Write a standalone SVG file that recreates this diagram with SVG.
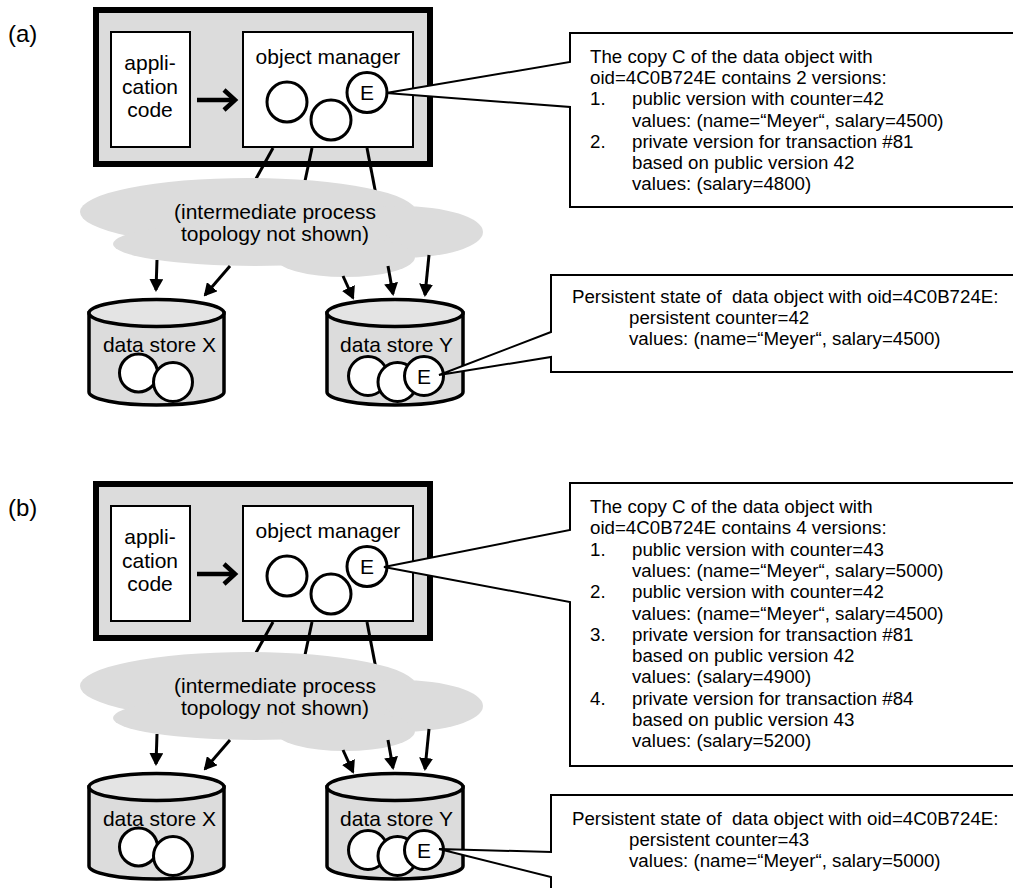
<svg xmlns="http://www.w3.org/2000/svg" width="1013" height="888" viewBox="0 0 1013 888">
  <defs>
    <style>
      text { font-family: "Liberation Sans", Arial, sans-serif; fill: #000; }
      .lbl { font-size: 21px; }
      .tag { font-size: 24px; }
      .mid { text-anchor: middle; }
      .note { font-size: 18.7px; }
      .host { fill: #dcdcdc; stroke: #000; stroke-width: 6; }
      .box { fill: #fff; stroke: #000; stroke-width: 2; }
      .obj { fill: #fff; stroke: #000; stroke-width: 3; }
      .cloud { fill: #dcdcdc; }
      .store { fill: #dcdcdc; stroke: #000; stroke-width: 3.5; }
      .store-top { fill: #e4e4e4; stroke: #000; stroke-width: 3.5; }
      .link { stroke: #000; stroke-width: 3; fill: none; }
      .flow { stroke: #000; stroke-width: 3; fill: none; marker-end: url(#head); }
      .call { stroke: #000; stroke-width: 4.5; fill: none; }
      .callout { fill: #fff; stroke: #000; stroke-width: 2; stroke-linejoin: miter; }
    </style>
    <marker id="head" viewBox="0 0 13 14" refX="11" refY="7" markerWidth="13" markerHeight="14" markerUnits="userSpaceOnUse" orient="auto">
      <path d="M0,0 L13,7 L0,14 Z" fill="#000"/>
    </marker>
  </defs>

  <!-- ===== scenario (a) ===== -->
  <g id="panel-a">
    <text class="tag" x="8" y="42">(a)</text>

    <g id="a-host">
      <rect class="host" x="96" y="10" width="334" height="154"/>
    </g>
    <g id="a-app">
      <rect class="box" x="111" y="32" width="79" height="115"/>
      <text class="lbl mid" x="150" y="70">appli-</text>
      <text class="lbl mid" x="150" y="93.5">cation</text>
      <text class="lbl mid" x="150" y="117">code</text>
    </g>
    <g id="a-om">
      <rect class="box" x="243" y="32" width="170" height="115"/>
      <text class="lbl mid" x="328" y="64">object manager</text>
      <circle class="obj" cx="287" cy="102" r="20"/>
      <circle class="obj" cx="331" cy="120" r="20"/>
      <circle class="obj" cx="367" cy="92.5" r="20"/>
      <text class="lbl mid" x="367" y="100">E</text>
    </g>

    <g id="a-connectors">
      <line class="call" x1="197" y1="100" x2="233" y2="100"/>
      <polyline class="call" points="224,90 235,100 224,110"/>
      <line class="link" x1="273" y1="148" x2="247" y2="195"/>
      <line class="link" x1="312" y1="148" x2="302" y2="195"/>
      <line class="link" x1="367" y1="148" x2="377" y2="200"/>
    </g>

    <g id="a-cloud">
      <ellipse class="cloud" cx="248" cy="212" rx="168" ry="34"/>
      <ellipse class="cloud" cx="400" cy="232" rx="83" ry="26"/>
      <ellipse class="cloud" cx="255" cy="244" rx="142" ry="22"/>
      <ellipse class="cloud" cx="345" cy="257" rx="70" ry="20"/>
      <text class="lbl mid" x="275" y="219">(intermediate process</text>
      <text class="lbl mid" x="275" y="241">topology not shown)</text>
    </g>

    <g id="a-flows">
      <line class="flow" x1="157" y1="260" x2="156" y2="290"/>
      <line class="flow" x1="230" y1="266" x2="205" y2="295"/>
      <line class="flow" x1="343" y1="276" x2="353" y2="298"/>
      <line class="flow" x1="388" y1="266" x2="393" y2="294"/>
      <line class="flow" x1="429" y1="255" x2="425" y2="295"/>
    </g>

    <g id="a-store-x">
      <path class="store" d="M89,313 L89,392 A67.5,13 0 0 0 224,392 L224,313 Z"/>
      <ellipse class="store-top" cx="156.5" cy="313" rx="67.5" ry="13.5"/>
      <text class="lbl mid" x="159.5" y="351.5">data store X</text>
      <circle class="obj" cx="138.5" cy="373" r="19"/>
      <circle class="obj" cx="173" cy="382" r="19.5"/>
    </g>
    <g id="a-store-y">
      <path class="store" d="M327,313 L327,392 A68,13 0 0 0 463,392 L463,313 Z"/>
      <ellipse class="store-top" cx="395" cy="313" rx="68" ry="13.5"/>
      <text class="lbl mid" x="396.5" y="351.5">data store Y</text>
      <circle class="obj" cx="368" cy="376" r="19.5"/>
      <circle class="obj" cx="397.5" cy="382" r="19.5"/>
      <circle class="obj" cx="424" cy="376" r="19.5"/>
      <text class="lbl mid" x="424" y="383.5">E</text>
    </g>

    <g id="a-copy-note">
      <path class="callout" d="M1020,33 L570,33 L570,62 L386,93 L570,107 L570,207 L1020,207"/>
      <text class="note" x="590" y="63">The copy C of the data object with</text>
      <text class="note" x="590" y="84.2">oid=4C0B724E contains 2 versions:</text>
      <text class="note" x="590" y="105.4">1.</text>
      <text class="note" x="632" y="105.4">public version with counter=42</text>
      <text class="note" x="632" y="126.6">values: (name=“Meyer“, salary=4500)</text>
      <text class="note" x="590" y="147.8">2.</text>
      <text class="note" x="632" y="147.8">private version for transaction #81</text>
      <text class="note" x="632" y="169">based on public version 42</text>
      <text class="note" x="632" y="190.2">values: (salary=4800)</text>
    </g>

    <g id="a-persist-note">
      <path class="callout" d="M1020,275 L551,275 L551,332 L439,375 L551,357 L551,372 L1020,372"/>
      <text class="note" x="572" y="303" xml:space="preserve">Persistent state of  data object with oid=4C0B724E:</text>
      <text class="note" x="629" y="324">persistent counter=42</text>
      <text class="note" x="629" y="345">values: (name=“Meyer“, salary=4500)</text>
    </g>
  </g>

  <!-- ===== scenario (b) ===== -->
  <g id="panel-b">
    <text class="tag" x="8" y="516">(b)</text>

    <g transform="translate(0,474)">
      <g id="b-host">
        <rect class="host" x="96" y="10" width="334" height="154"/>
      </g>
      <g id="b-app">
        <rect class="box" x="111" y="32" width="79" height="115"/>
        <text class="lbl mid" x="150" y="70">appli-</text>
        <text class="lbl mid" x="150" y="93.5">cation</text>
        <text class="lbl mid" x="150" y="117">code</text>
      </g>
      <g id="b-om">
        <rect class="box" x="243" y="32" width="170" height="115"/>
        <text class="lbl mid" x="328" y="64">object manager</text>
        <circle class="obj" cx="287" cy="102" r="20"/>
        <circle class="obj" cx="331" cy="120" r="20"/>
        <circle class="obj" cx="367" cy="92.5" r="20"/>
        <text class="lbl mid" x="367" y="100">E</text>
      </g>

      <g id="b-connectors">
        <line class="call" x1="197" y1="100" x2="233" y2="100"/>
        <polyline class="call" points="224,90 235,100 224,110"/>
        <line class="link" x1="273" y1="148" x2="247" y2="195"/>
        <line class="link" x1="312" y1="148" x2="302" y2="195"/>
        <line class="link" x1="367" y1="148" x2="377" y2="200"/>
      </g>

      <g id="b-cloud">
        <ellipse class="cloud" cx="248" cy="212" rx="168" ry="34"/>
        <ellipse class="cloud" cx="400" cy="232" rx="83" ry="26"/>
        <ellipse class="cloud" cx="255" cy="244" rx="142" ry="22"/>
        <ellipse class="cloud" cx="345" cy="257" rx="70" ry="20"/>
        <text class="lbl mid" x="275" y="219">(intermediate process</text>
        <text class="lbl mid" x="275" y="241">topology not shown)</text>
      </g>

      <g id="b-flows">
        <line class="flow" x1="157" y1="260" x2="156" y2="290"/>
        <line class="flow" x1="230" y1="266" x2="205" y2="295"/>
        <line class="flow" x1="343" y1="276" x2="353" y2="298"/>
        <line class="flow" x1="388" y1="266" x2="393" y2="294"/>
        <line class="flow" x1="429" y1="255" x2="425" y2="295"/>
      </g>

      <g id="b-store-x">
        <path class="store" d="M89,313 L89,392 A67.5,13 0 0 0 224,392 L224,313 Z"/>
        <ellipse class="store-top" cx="156.5" cy="313" rx="67.5" ry="13.5"/>
        <text class="lbl mid" x="159.5" y="351.5">data store X</text>
        <circle class="obj" cx="138.5" cy="373" r="19"/>
        <circle class="obj" cx="173" cy="382" r="19.5"/>
      </g>
      <g id="b-store-y">
        <path class="store" d="M327,313 L327,392 A68,13 0 0 0 463,392 L463,313 Z"/>
        <ellipse class="store-top" cx="395" cy="313" rx="68" ry="13.5"/>
        <text class="lbl mid" x="396.5" y="351.5">data store Y</text>
        <circle class="obj" cx="368" cy="376" r="19.5"/>
        <circle class="obj" cx="397.5" cy="382" r="19.5"/>
        <circle class="obj" cx="424" cy="376" r="19.5"/>
        <text class="lbl mid" x="424" y="383.5">E</text>
      </g>
    </g>

    <g id="b-copy-note">
      <path class="callout" d="M1020,483 L570,483 L570,530 L384,567 L570,602 L570,766 L1020,766"/>
      <text class="note" x="590" y="513">The copy C of the data object with</text>
      <text class="note" x="590" y="534.3">oid=4C0B724E contains 4 versions:</text>
      <text class="note" x="590" y="555.6">1.</text>
      <text class="note" x="632" y="555.6">public version with counter=43</text>
      <text class="note" x="632" y="576.9">values: (name=“Meyer“, salary=5000)</text>
      <text class="note" x="590" y="598.2">2.</text>
      <text class="note" x="632" y="598.2">public version with counter=42</text>
      <text class="note" x="632" y="619.5">values: (name=“Meyer“, salary=4500)</text>
      <text class="note" x="590" y="640.8">3.</text>
      <text class="note" x="632" y="640.8">private version for transaction #81</text>
      <text class="note" x="632" y="662.1">based on public version 42</text>
      <text class="note" x="632" y="683.4">values: (salary=4900)</text>
      <text class="note" x="590" y="704.7">4.</text>
      <text class="note" x="632" y="704.7">private version for transaction #84</text>
      <text class="note" x="632" y="726">based on public version 43</text>
      <text class="note" x="632" y="747.3">values: (salary=5200)</text>
    </g>

    <g id="b-persist-note">
      <path class="callout" d="M1020,795 L551,795 L551,852 L439,849 L551,877 L551,900"/>
      <text class="note" x="572" y="825" xml:space="preserve">Persistent state of  data object with oid=4C0B724E:</text>
      <text class="note" x="629" y="846">persistent counter=43</text>
      <text class="note" x="629" y="867">values: (name=“Meyer“, salary=5000)</text>
    </g>
  </g>
</svg>
